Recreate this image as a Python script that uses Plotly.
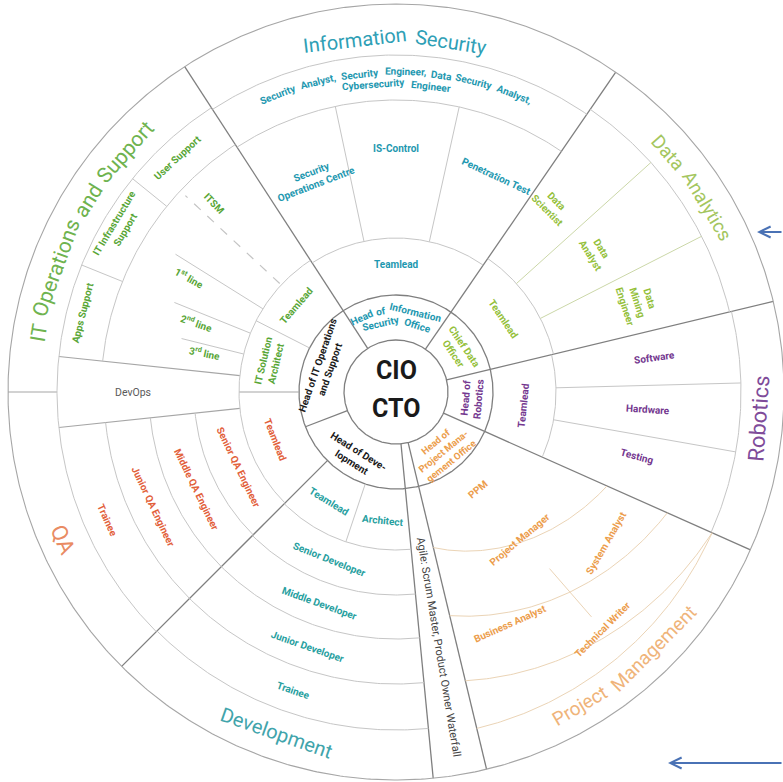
import numpy as np
import plotly.graph_objects as go

# ======================= DATA (labels) =======================
center_titles = ["CIO", "CTO"]
head_labels = ["Head of Information Security Office", "Chief Data<br>Officer", "Head of<br>Robotics",
               "Head of<br>Project Mana-<br>gement Office", "Head of Deve-<br>lopment",
               "Head of IT Operations<br>and Support"]
sector_titles = ["Information Security", "Data Analytics", "Robotics", "Project Management",
                 "Development", "QA", "IT Operations and Support"]
infosec_roles = ["Teamlead", "Security<br>Operations Centre", "IS-Control", "Penetration Test"]
infosec_staff = ["Security Analyst, Security Engineer, Data Security Analyst,", "Cybersecurity Engineer"]
data_roles = ["Teamlead", "Data<br>Scientist", "Data<br>Analyst", "Data<br>Mining<br>Engineer"]
robotics_roles = ["Teamlead", "Software", "Hardware", "Testing"]
pm_roles = ["PPM", "Project Manager", "System Analyst", "Business Analyst", "Technical Writer"]
agile_roles = ["Agile: Scrum Master, Product Owner Waterfall"]
dev_roles = ["Teamlead", "Architect", "Senior Developer", "Middle Developer", "Junior Developer", "Trainee"]
qa_roles = ["Teamlead", "Senior QA Engineer", "Middle QA Engineer", "Junior QA Engineer", "Trainee"]
devops_roles = ["DevOps"]
itops_roles = ["Teamlead", "IT Solution<br>Architect", "ITSM", "1<sup>st</sup> line", "2<sup>nd</sup> line",
               "3<sup>rd</sup> line", "Apps Support", "IT Infrastructure<br>Support", "User Support"]

# ======================= STYLE / GEOMETRY =======================
W, H = 783, 782
CX, CY = 396, 392
FONT = "Roboto"
COL = dict(infosec="#1e98b0", data="#94c03a", robo="#74378f", pm="#ec9d4c", dev="#27a0a0",
           qa="#e2603a", itops="#58a636", black="#1a1a1a", gray="#5a5a5a")
TCOL = dict(infosec="#2f9fb6", data="#a4c65f", robo="#7f4c9a", pm="#efb47a", dev="#41a4ab",
            qa="#e98b63", itops="#6fb34f")
STY = {"dark": dict(color="#7f7f7f", width=1.3),
       "mid": dict(color="#a6a6a6", width=1.1),
       "light": dict(color="#c6c6c6", width=1.0),
       "green": dict(color="#cbd7a8", width=1.0),
       "tan": dict(color="#ebd4b6", width=1.0),
       "dash": dict(color="#c4c4c4", width=1.2, dash="dash")}
LBL = 10  # default label size


def xy(r, th):
    t = np.radians(th)
    return r * np.sin(t), r * np.cos(t)


groups = {}


def seg(style, xs, ys):
    g = groups.setdefault(style, ([], []))
    g[0].extend(list(xs) + [None])
    g[1].extend(list(ys) + [None])


def arc(style, t0, t1, r0, r1=None):
    if r1 is None:
        r1 = r0
    n = max(10, int(abs(t1 - t0) * 2))
    t = np.linspace(t0, t1, n)
    r = np.linspace(r0, r1, n)
    x, y = xy(r, t)
    seg(style, x, y)


def radial(style, th, r0, r1):
    x, y = xy(np.array([r0, r1]), np.array([th, th]))
    seg(style, x, y)


# ---- rings and dividers
arc("dark", 0, 360, 52)
arc("dark", 0, 360, 97)
arc("mid", 0, 360, 388)
for th in [327, 34.5, 76.5, 114, 166.5, 174.5, 249]:
    radial("dark", th, 52, 97)
for th in [327, 34.5, 76.5, 114, 166.5, 174.5, 225]:
    radial("dark", th, 97, 388)
radial("mid", 270, 97, 157)
radial("mid", 270, 339, 388)
radial("mid", 264, 157, 339)
radial("mid", 276, 157, 339)
# Information Security
for r in [154, 292, 337]:
    arc("light", 327, 394.5, r)
radial("light", 348, 154, 292)
radial("light", 12.5, 154, 292)
# Data Analytics
arc("light", 34.5, 76.5, 162)
arc("light", 34.5, 76.5, 343)
radial("green", 48, 162, 343)
radial("green", 63, 162, 343)
# Robotics
arc("light", 76.5, 114, 160)
arc("light", 76.5, 114, 345)
radial("light", 88.5, 160, 345)
radial("light", 100, 160, 345)
# Project Management (bands widen towards Robotics)
arc("tan", 166.5, 114, 160, 231)
arc("tan", 166.5, 114, 230, 297)
arc("tan", 166.5, 114, 297, 346)
arc("tan", 166.5, 114, 346)
radial("tan", 139, 234, 298)
# Development
for r in [158, 203, 247, 292, 338]:
    arc("light", 174.5, 225, r)
radial("light", 198.5, 97, 158)
# QA / DevOps / IT Operations
arc("light", 225, 327, 157)
for r in [202, 247, 292]:
    arc("light", 225, 264, r)
arc("light", 225, 327, 339)
arc("light", 276, 327, 295)
radial("light", 292, 295, 339)
radial("light", 309, 295, 339)
radial("light", 297, 97, 157)
radial("light", 302, 157, 260)
radial("light", 292, 157, 239)
radial("light", 284, 157, 221)
radial("dash", 313, 159, 288)

fig = go.Figure()
for name, (xs, ys) in groups.items():
    fig.add_trace(go.Scatter(x=xs, y=ys, mode="lines", line=STY[name], hoverinfo="skip", showlegend=False))

ann = []


def tan_rot(th):
    t = th % 360
    if t <= 90:
        return t
    if t >= 270:
        return t - 360
    return t - 180


def label(text, r, th, color, size=LBL, bold=True, orient="tan", rot=None):
    x, y = xy(r, th)
    if rot is None:
        t = th % 360
        rot = {"tan": tan_rot(th), "out": t - 90, "in": t - 270}.get(orient, 0)
    ann.append(dict(x=x, y=y, xref="x", yref="y", text=f"<b>{text}</b>" if bold else text,
                    textangle=rot, showarrow=False, xanchor="center", yanchor="middle",
                    font=dict(family=FONT, size=size, color=color)))


def cw(c, size, bold):
    if c in "ilj.,:;'!|":
        f = 0.25
    elif c == "I":
        f = 0.28
    elif c in "ft":
        f = 0.34
    elif c == "r":
        f = 0.35
    elif c == " ":
        f = 0.26
    elif c == "-":
        f = 0.28
    elif c in "mM":
        f = 0.87
    elif c in "wW":
        f = 0.78
    elif c.isupper():
        f = 0.66
    else:
        f = 0.56
    return f * size * (1.05 if bold else 1.0)


def curved(text, r, thc, color, size, bold=False, gap=1.0):
    words = text.split(" ")
    ws = [sum(cw(c, size, bold) for c in w) for w in words]
    sp = cw(" ", size, bold) * gap
    total = sum(ws) + sp * (len(words) - 1)
    t = thc % 360
    sign = 1 if (t <= 90 or t >= 270) else -1
    pos = -total / 2
    for w, wd in zip(words, ws):
        th = thc + sign * np.degrees((pos + wd / 2) / r)
        label(w, r, th, color, size, bold)
        pos += wd + sp


# ---- centre
ann.append(dict(x=0, y=22, xref="x", yref="y", text=f"<b>{center_titles[0]}</b>", showarrow=False,
                font=dict(family=FONT, size=25, color=COL["black"])))
ann.append(dict(x=0, y=-16, xref="x", yref="y", text=f"<b>{center_titles[1]}</b>", showarrow=False,
                font=dict(family=FONT, size=25, color=COL["black"])))

# ---- heads ring
curved("Head of Information", 82, 0, COL["infosec"], 10, True)
curved("Security Office", 70, 0, COL["infosec"], 10, True)
label(head_labels[1], 76, 56, COL["data"], 10)
label(head_labels[2], 76, 95, COL["robo"], 10)
label(head_labels[3], 76, 141, COL["pm"], 9.5)
label(head_labels[4], 77, 212, COL["black"], 10)
label(head_labels[5], 76, 289, COL["black"], 10)

# ---- Information Security
label(infosec_roles[0], 128, 0, COL["infosec"])
label(infosec_roles[1], 229, -21, COL["infosec"])
label(infosec_roles[2], 244, 0, COL["infosec"])
label(infosec_roles[3], 238, 25, COL["infosec"])
curved(infosec_staff[0], 320, 0, COL["infosec"], 10, True, gap=0.9)
curved(infosec_staff[1], 308, 0, COL["infosec"], 10, True)
curved(sector_titles[0], 354, 0, TCOL["infosec"], 20)

# ---- Data Analytics
label(data_roles[0], 130, 56, COL["data"])
label(data_roles[1], 243, 40, COL["data"], rot=45)
label(data_roles[2], 244, 55, COL["data"], rot=58)
label(data_roles[3], 257, 69.7, COL["data"], rot=72)
curved(sector_titles[1], 362, 55.5, TCOL["data"], 19)

# ---- Robotics
label(robotics_roles[0], 128, 96, COL["robo"])
label(robotics_roles[1], 261, 82.5, COL["robo"], orient="out")
label(robotics_roles[2], 253, 94, COL["robo"], orient="out")
label(robotics_roles[3], 250, 105, COL["robo"], orient="out")
curved(sector_titles[2], 364, 94.2, TCOL["robo"], 22)

# ---- Project Management
label(pm_roles[0], 127, 140, COL["pm"])
label(pm_roles[1], 192, 140, COL["pm"])
label(pm_roles[2], 259, 125.6, COL["pm"], rot=-60)
label(pm_roles[3], 258, 153.7, COL["pm"], rot=-24)
label(pm_roles[4], 315, 139, COL["pm"], rot=-45)
curved(sector_titles[3], 364, 140.2, TCOL["pm"], 19)

# ---- Agile strip
label(agile_roles[0], 258, 170.5, "#444444", 11, bold=False, orient="out")

# ---- Development
label(dev_roles[0], 128, 211.5, COL["dev"])
label(dev_roles[1], 129, 186, COL["dev"])
label(dev_roles[2], 180, 201.7, COL["dev"])
label(dev_roles[3], 225, 199.8, COL["dev"])
label(dev_roles[4], 270, 199.2, COL["dev"])
label(dev_roles[5], 316, 199.0, COL["dev"])
curved(sector_titles[4], 361, 199.3, TCOL["dev"], 20)

# ---- QA
label(qa_roles[0], 130, 248.5, COL["qa"])
label(qa_roles[1], 175, 244.3, COL["qa"])
label(qa_roles[2], 222, 244.0, COL["qa"])
label(qa_roles[3], 269, 244.7, COL["qa"])
label(qa_roles[4], 316, 246.0, COL["qa"])
curved(sector_titles[5], 364, 246, TCOL["qa"], 22)

# ---- DevOps
label(devops_roles[0], 263, 270, COL["gray"], 10.5, bold=False, orient="in")

# ---- IT Operations and Support
label(itops_roles[0], 132, 311, COL["itops"])
label(itops_roles[1], 130, 283.4, COL["itops"])
label(itops_roles[2], 262, 316, COL["itops"], orient="in")
label(itops_roles[3], 236, 299, COL["itops"], orient="in")
label(itops_roles[4], 211, 289, COL["itops"], orient="in")
label(itops_roles[5], 195, 281.5, COL["itops"], orient="in")
label(itops_roles[6], 323, 284.2, COL["itops"])
label(itops_roles[7], 322, 301, COL["itops"])
label(itops_roles[8], 320, 317, COL["itops"])
curved(sector_titles[6], 362, 297.7, TCOL["itops"], 21)

# ---- pointer arrows (decoration)
for (px, py, tail) in [(757, 232, 40), (668, 763, 130)]:
    ann.append(dict(x=px / W, y=1 - py / H, xref="paper", yref="paper", ax=tail, ay=0,
                    axref="pixel", ayref="pixel", text="", showarrow=True, arrowhead=5,
                    arrowsize=1.1, arrowwidth=2, arrowcolor="#4a72b5", standoff=0))

fig.update_layout(
    width=W, height=H, margin=dict(l=0, r=0, t=0, b=0),
    paper_bgcolor="white", plot_bgcolor="white",
    xaxis=dict(range=[-CX, W - CX], visible=False, fixedrange=True),
    yaxis=dict(range=[-(H - CY), CY], visible=False, fixedrange=True),
    annotations=ann, showlegend=False,
)
fig.write_html("out.html", config={"displayModeBar": False},
               post_script="document.body.style.margin='0px';document.body.style.overflow='hidden';")
